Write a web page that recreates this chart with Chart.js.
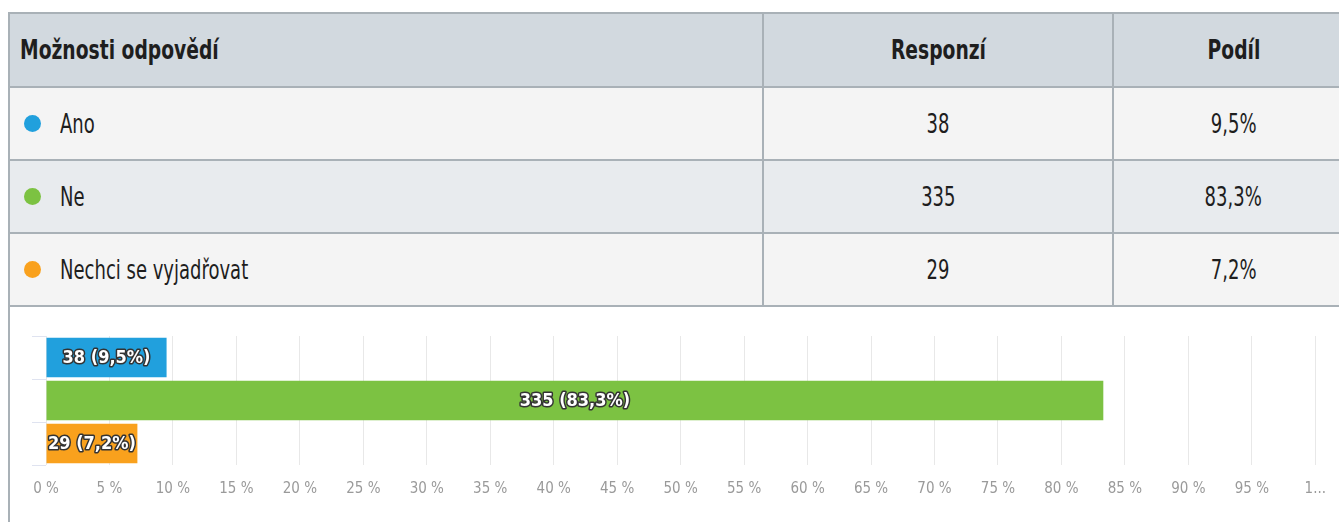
<!DOCTYPE html>
<html>
<head>
<meta charset="utf-8">
<script src="https://cdn.jsdelivr.net/npm/chart.js@4.4.0/dist/chart.umd.min.js"></script>
<style>
  html, body { margin: 0; padding: 0; background: #fff; overflow: hidden; }
  body { width: 1339px; height: 522px; position: relative; font-family: "DejaVu Sans Condensed", "DejaVu Sans", sans-serif; font-stretch: condensed; color: #1e1e1e; }
  #tbl { position: absolute; left: 8px; top: 12px; width: 1345px; border-collapse: collapse; table-layout: fixed; }
  #tbl td, #tbl th { border: 2px solid #a9b1b7; font-size: 26px; padding: 0; white-space: nowrap; }
  #tbl th { background: #d2d9df; height: 72px; font-weight: bold; }
  #tbl th.first { text-align: left; padding-left: 10px; }
  #tbl td { height: 71px; text-align: center; }
  #tbl td.first { text-align: left; padding-left: 14px; }
  #tbl tr.odd td { background: #f4f4f4; }
  #tbl tr.even td { background: #e8ebee; }
  .t { display: inline-block; transform: scaleX(0.77); transform-origin: center center; }
  th .t { transform: scaleX(0.8); }
  .first .t { transform-origin: left center; }
  .dot { display: inline-block; width: 17px; height: 17px; border-radius: 50%; margin-right: 19px; vertical-align: 1px; }
  #chartBox { position: absolute; left: 8px; top: 305px; width: 1331px; height: 217px; border-left: 2px solid #a9b1b7; }
</style>
</head>
<body>
<table id="tbl">
  <colgroup><col style="width:754px"><col style="width:350px"><col style="width:241px"></colgroup>
  <thead>
    <tr><th class="first"><span class="t">Možnosti odpovědí</span></th><th><span class="t">Responzí</span></th><th><span class="t">Podíl</span></th></tr>
  </thead>
  <tbody id="rows"></tbody>
</table>
<div id="chartBox"><canvas id="myChart"></canvas></div>
<script>
var categories = ["Ano", "Ne", "Nechci se vyjadřovat"];
var responses = [38, 335, 29];
var shares = [9.5, 83.3, 7.2];
var colors = ["#21a0dd", "#7cc242", "#f9a11d"];
var tickLabels = ["0 %", "5 %", "10 %", "15 %", "20 %", "25 %", "30 %", "35 %", "40 %", "45 %", "50 %",
  "55 %", "60 %", "65 %", "70 %", "75 %", "80 %", "85 %", "90 %", "95 %", "1..."];

function fmt(v) {
  return String(v).replace(".", ",");
}

// table rows
var rows = document.getElementById("rows");
categories.forEach((c, i) => {
  var tr = document.createElement("tr");
  tr.className = i % 2 ? "even" : "odd";
  tr.innerHTML = '<td class="first"><span class="dot" style="background:' + colors[i] + '"></span><span class="t">' + c + '</span></td>' +
    '<td><span class="t">' + responses[i] + '</span></td><td><span class="t">' + fmt(shares[i]) + '%</span></td>';
  rows.appendChild(tr);
});

// labels drawn on the bars, white with dark outline
var barLabels = {
  id: "barLabels",
  afterDatasetsDraw(chart) {
    var c = chart.ctx;
    var meta = chart.getDatasetMeta(0);
    c.save();
    c.font = "bold 18px 'DejaVu Sans Condensed', sans-serif";
    c.textAlign = "center";
    c.textBaseline = "middle";
    c.lineJoin = "round";
    meta.data.forEach((bar, i) => {
      var txt = responses[i] + " (" + fmt(shares[i]) + "%)";
      var x = (bar.base + bar.x) / 2;
      c.lineWidth = 3;
      c.strokeStyle = "#333";
      c.strokeText(txt, x, bar.y + 1);
      c.fillStyle = "#fff";
      c.fillText(txt, x, bar.y + 1);
    });
    c.restore();
  }
};

const ctx = document.getElementById("myChart");

var myChart = new Chart(ctx, {
  type: "bar",
  data: {
    labels: categories,
    datasets: [
      {
        data: shares,
        backgroundColor: colors,
        borderWidth: 0,
        categoryPercentage: 1,
        barPercentage: 0.92,
      },
    ],
  },
  plugins: [barLabels],
  options: {
    indexAxis: "y",
    responsive: true,
    maintainAspectRatio: false,
    animation: false,
    layout: { padding: { top: 31, left: 22, right: 21, bottom: 9 } },
    plugins: { legend: { display: false }, tooltip: { enabled: false } },
    scales: {
      x: {
        min: 0,
        max: 100,
        border: { display: false },
        grid: { color: "#e8e8e8", drawTicks: false },
        ticks: {
          stepSize: 5,
          padding: 15,
          color: "#9a9a9a",
          font: { size: 15, family: "'DejaVu Sans Condensed', sans-serif" },
          maxRotation: 0,
          autoSkip: false,
          callback: (v) => tickLabels[v / 5],
        },
      },
      y: {
        border: { display: false },
        grid: { drawOnChartArea: false, tickLength: 14, color: "#dfe3f0" },
        ticks: { display: false },
      },
    },
  },
});
</script>
</body>
</html>
